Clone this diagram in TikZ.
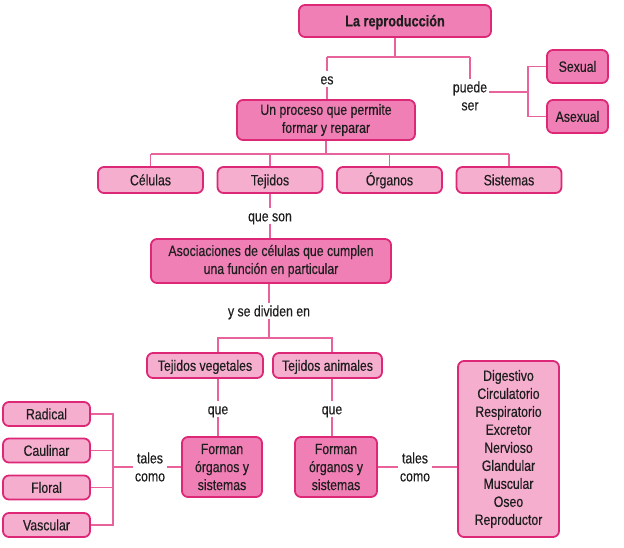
\documentclass[tikz,border=0pt]{standalone}
\usepackage{fontspec}
\setmainfont[FakeStretch=0.82,FakeBold=0.4]{Liberation Sans}
\definecolor{bord}{HTML}{DD2878}
\definecolor{darkf}{HTML}{F07FB5}
\definecolor{lightf}{HTML}{F6AECF}
\definecolor{lin}{HTML}{E8629C}
\definecolor{txt}{HTML}{1E1E1E}
\tikzset{
  box/.style={draw=bord, line width=1.8pt, rounded corners=6pt, align=center,
    text=txt, font=\fontsize{15}{18}\selectfont, inner sep=2pt},
  dbox/.style={box, fill=darkf},
  lbox/.style={box, fill=lightf},
  one/.style={text height=10.7pt, text depth=0pt},
  lab/.style={align=center, text=txt, font=\fontsize{15}{18}\selectfont, inner sep=2pt},
  con/.style={draw=lin, line width=1.3pt}
}
\begin{document}
\begin{tikzpicture}[x=1pt,y=-1pt]
\useasboundingbox (0,0) rectangle (624,547);
% nodes
\node[dbox, one, minimum width=192pt, minimum height=32pt, font=\fontsize{15.5}{18}\selectfont\bfseries] (top) at (395,21) {La reproducción};
\node[lab, one] (es) at (327,79) {es};
\node[lab] (puede) at (470,96) {puede\\ser};
\node[dbox, one, minimum width=61pt, minimum height=33pt] (sexual) at (577.5,66.5) {Sexual};
\node[dbox, one, minimum width=61pt, minimum height=33pt] (asexual) at (577.5,116.5) {Asexual};
\node[dbox, minimum width=178pt, minimum height=40pt] (proc) at (326,120) {Un proceso que permite\\formar y reparar};
\node[lbox, one, minimum width=105pt, minimum height=26pt] (cel) at (150.5,180) {Células};
\node[lbox, one, minimum width=105pt, minimum height=26pt] (tej) at (270,180) {Tejidos};
\node[lbox, one, minimum width=105pt, minimum height=26pt] (org) at (389.5,180) {Órganos};
\node[lbox, one, minimum width=105pt, minimum height=26pt] (sis) at (509,180) {Sistemas};
\node[lab, one] (queson) at (270,216) {que son};
\node[dbox, minimum width=240pt, minimum height=44pt] (asoc) at (271,261) {Asociaciones de células que cumplen\\una función en particular};
\node[lab, one] (ydiv) at (269,311) {y se dividen en};
\node[lbox, one, minimum width=116pt, minimum height=25pt] (tveg) at (205,365.5) {Tejidos vegetales};
\node[lbox, one, minimum width=109pt, minimum height=25pt] (tani) at (327.5,365.5) {Tejidos animales};
\node[lab, one] (que1) at (218,409) {que};
\node[lab, one] (que2) at (332,409) {que};
\node[dbox, minimum width=80pt, minimum height=60pt] (for1) at (222,467) {Forman\\órganos y\\sistemas};
\node[dbox, minimum width=82pt, minimum height=60pt] (for2) at (336,467) {Forman\\órganos y\\sistemas};
\node[lab] (tc1) at (150,467) {tales\\como};
\node[lab] (tc2) at (415,467) {tales\\como};
\node[lbox, minimum width=101pt, minimum height=176pt] (dig) at (508.5,449) {Digestivo\\Circulatorio\\Respiratorio\\Excretor\\Nervioso\\Glandular\\Muscular\\Oseo\\Reproductor};
\node[lbox, one, minimum width=87pt, minimum height=24pt] (rad) at (46.5,414) {Radical};
\node[lbox, one, minimum width=87pt, minimum height=24pt] (cau) at (46.5,450.5) {Caulinar};
\node[lbox, one, minimum width=87pt, minimum height=24pt] (flo) at (46.5,487.5) {Floral};
\node[lbox, one, minimum width=87pt, minimum height=24pt] (vas) at (46.5,525) {Vascular};
% junctions
\coordinate (j1) at (395,57);
\coordinate (j2) at (528,92);
\coordinate (j5) at (326,154);
\coordinate (j3) at (269,338);
\coordinate (j4) at (113,467);
% connectors
\draw[con] (top.south) -- (j1);
\draw[con] (es.north |- j1) -- (puede.north |- j1);
\draw[con] (es.north |- j1) -- (es.north);
\draw[con] (puede.north |- j1) -- (puede.north);
\draw[con] (es.south) -- (es.south |- proc.north);
\draw[con] (puede.east |- j2) -- (j2);
\draw[con] (sexual.west) -- (sexual.west -| j2) -- (asexual.west -| j2) -- (asexual.west);
\draw[con] (proc.south) -- (j5);
\draw[con] (cel.north |- j5) -- (sis.north |- j5);
\draw[con] (cel.north |- j5) -- (cel.north);
\draw[con] (tej.north |- j5) -- (tej.north);
\draw[con] (org.north |- j5) -- (org.north);
\draw[con] (sis.north |- j5) -- (sis.north);
\draw[con] (tej.south) -- (queson.north);
\draw[con] (queson.south) -- (queson.south |- asoc.north);
\draw[con] (ydiv.north |- asoc.south) -- (ydiv.north);
\draw[con] (ydiv.south) -- (j3);
\draw[con] (tveg.north -| que1) -- (que1 |- j3) -- (que2 |- j3) -- (tani.north -| que2);
\draw[con] (tveg.south -| que1) -- (que1.north);
\draw[con] (que1.south) -- (for1.north -| que1);
\draw[con] (tani.south -| que2) -- (que2.north);
\draw[con] (que2.south) -- (for2.north -| que2);
\draw[con] (for1.west) -- (tc1.east);
\draw[con] (tc1.west) -- (j4);
\draw[con] (rad.east) -- (rad.east -| j4) -- (vas.east -| j4) -- (vas.east);
\draw[con] (cau.east) -- (cau.east -| j4);
\draw[con] (flo.east) -- (flo.east -| j4);
\draw[con] (for2.east) -- (tc2.west);
\draw[con] (tc2.east) -- (dig.west |- tc2);
\end{tikzpicture}
\end{document}
